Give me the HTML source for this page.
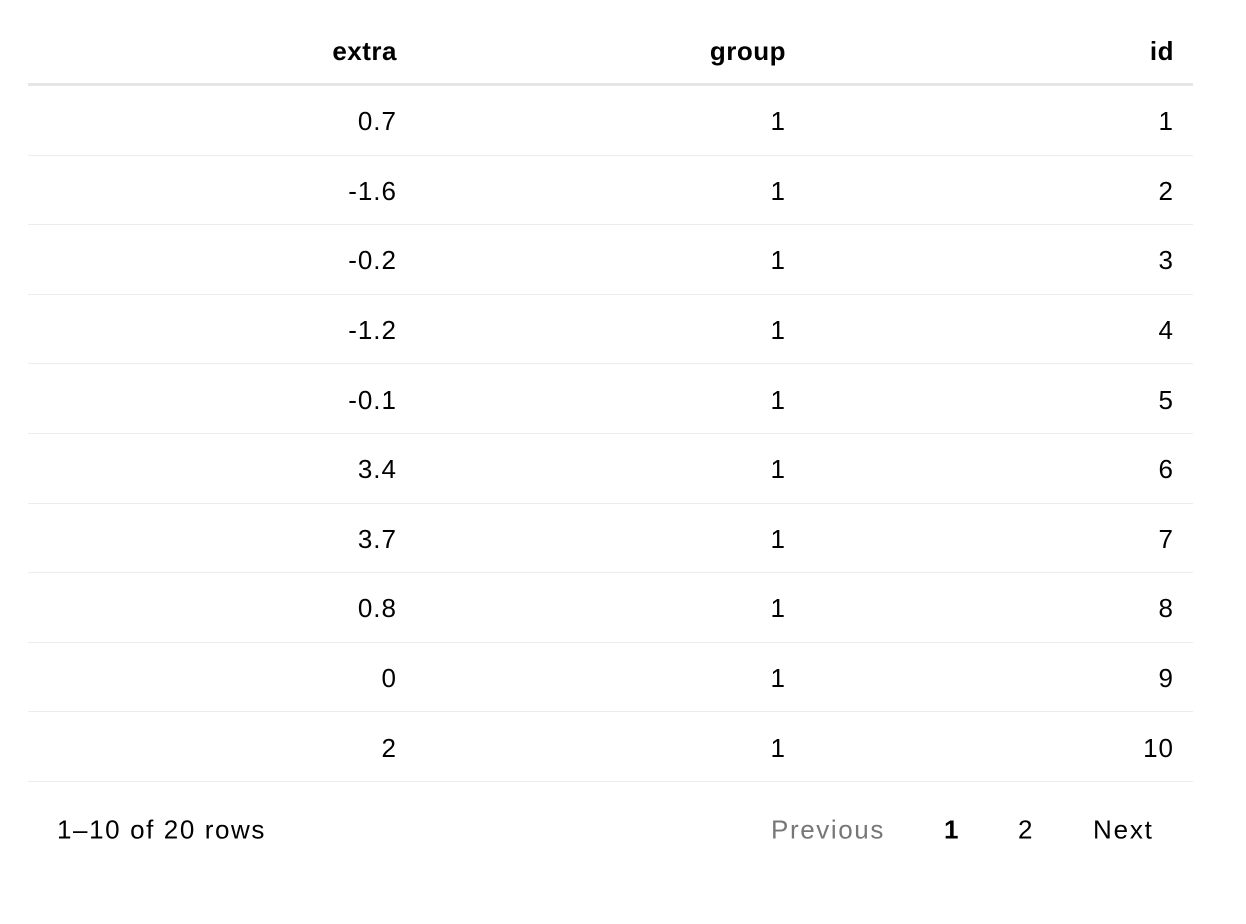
<!DOCTYPE html>
<html><head><meta charset="utf-8"><style>
body{margin:0;background:#fff;width:1246px;height:924px;font-family:"Liberation Sans",Helvetica,Arial,sans-serif;color:#000;position:relative;overflow:hidden;letter-spacing:1px}
.t{position:absolute;left:28px;top:0;width:1165px}
.r{display:flex;height:69.6px;border-bottom:1px solid #ececec;box-sizing:border-box;align-items:center;font-size:26px}
.h{height:86px;border-bottom:3px solid #e6e6e6;font-weight:bold;align-items:center;padding-top:16px;box-sizing:border-box;letter-spacing:0.5px}
.r .c{padding-top:3px}
.c{width:388px;text-align:right;padding-right:19px;box-sizing:border-box}
.c:nth-child(2){width:389px}
.p{position:absolute;top:830px;font-size:26px;transform:translateY(-50%)}
</style></head><body>
<div class="t">
<div class="r h"><div class="c">extra</div><div class="c">group</div><div class="c">id</div></div>
<div class="r"><div class="c">0.7</div><div class="c">1</div><div class="c">1</div></div>
<div class="r"><div class="c">-1.6</div><div class="c">1</div><div class="c">2</div></div>
<div class="r"><div class="c">-0.2</div><div class="c">1</div><div class="c">3</div></div>
<div class="r"><div class="c">-1.2</div><div class="c">1</div><div class="c">4</div></div>
<div class="r"><div class="c">-0.1</div><div class="c">1</div><div class="c">5</div></div>
<div class="r"><div class="c">3.4</div><div class="c">1</div><div class="c">6</div></div>
<div class="r"><div class="c">3.7</div><div class="c">1</div><div class="c">7</div></div>
<div class="r"><div class="c">0.8</div><div class="c">1</div><div class="c">8</div></div>
<div class="r"><div class="c">0</div><div class="c">1</div><div class="c">9</div></div>
<div class="r"><div class="c">2</div><div class="c">1</div><div class="c">10</div></div>
</div>
<div class="p" style="left:57px;letter-spacing:1.6px">1–10 of 20 rows</div>
<div class="p" style="left:771px;color:#777;letter-spacing:1.6px">Previous</div>
<div class="p" style="left:944px;font-weight:bold">1</div>
<div class="p" style="left:1018px">2</div>
<div class="p" style="left:1093px;letter-spacing:1.8px">Next</div>
</body></html>
